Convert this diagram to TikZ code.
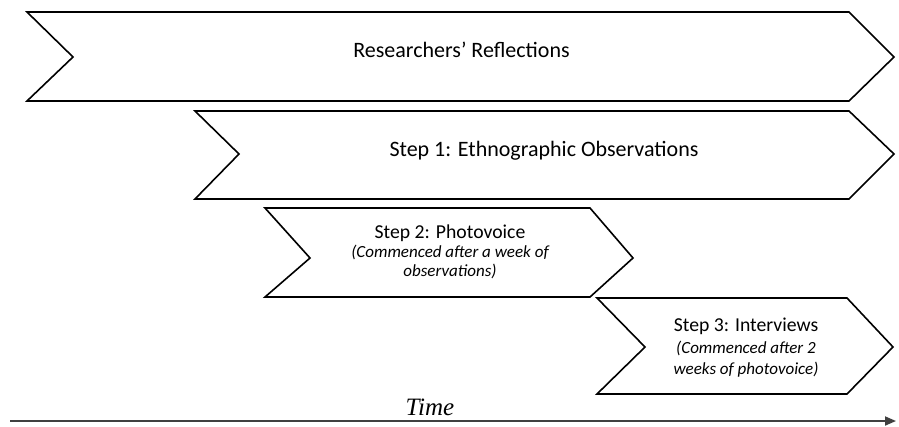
\documentclass[tikz,border=0pt]{standalone}
\usepackage{fontspec}
\setmainfont{Carlito}
\newfontfamily\timefont{Liberation Serif}
\newcommand\subtxt{\fontsize{17}{20}\selectfont\itshape}
\usetikzlibrary{arrows.meta}
\begin{document}
\begin{tikzpicture}[x=1pt,y=-1pt,
  chev/.style={draw=black,line width=1.6pt,line join=miter,fill=white},
  biglbl/.style={font=\fontsize{22}{24}\selectfont,inner sep=0pt,anchor=base},
  steplbl/.style={align=center,inner sep=0pt,anchor=center}]
\useasboundingbox (0,0) rectangle (899,426);
\draw[chev] (27,12) -- (849,12) -- (894,57) -- (849,101) -- (27,101) -- (73,57) -- cycle;
\draw[chev] (195,111) -- (849,111) -- (894,154) -- (849,199) -- (195,199) -- (239,154) -- cycle;
\draw[chev] (265,208) -- (590,208) -- (633,258) -- (590,297) -- (265,297) -- (310,258) -- cycle;
\draw[chev] (597,298) -- (847,298) -- (893,347) -- (847,394) -- (597,394) -- (645,347) -- cycle;
\node[biglbl] (r) at (461.5,57) {Researchers’ Reflections};
\node[biglbl] (s1) at (544,156) {Step 1: Ethnographic Observations};
\node[steplbl,font=\fontsize{19.7}{19}\selectfont] (s2) at (450,251.5) {Step 2: Photovoice\\{\subtxt (Commenced after a week of}\\{\subtxt observations)}};
\node[steplbl,font=\fontsize{19.7}{21.5}\selectfont] (s3) at (746,348) {Step 3: Interviews\\{\subtxt (Commenced after 2}\\{\subtxt weeks of photovoice)}};
\coordinate (t0) at (10,421);
\coordinate (t1) at (896,421);
\draw[line width=1.8pt,draw=black!75,-{Triangle[length=11pt,width=9pt]}] (t0) -- (t1);
\node[font=\timefont\itshape\fontsize{25}{28}\selectfont,inner sep=0pt,anchor=base] (time) at (430,415) {Time};
\end{tikzpicture}
\end{document}
